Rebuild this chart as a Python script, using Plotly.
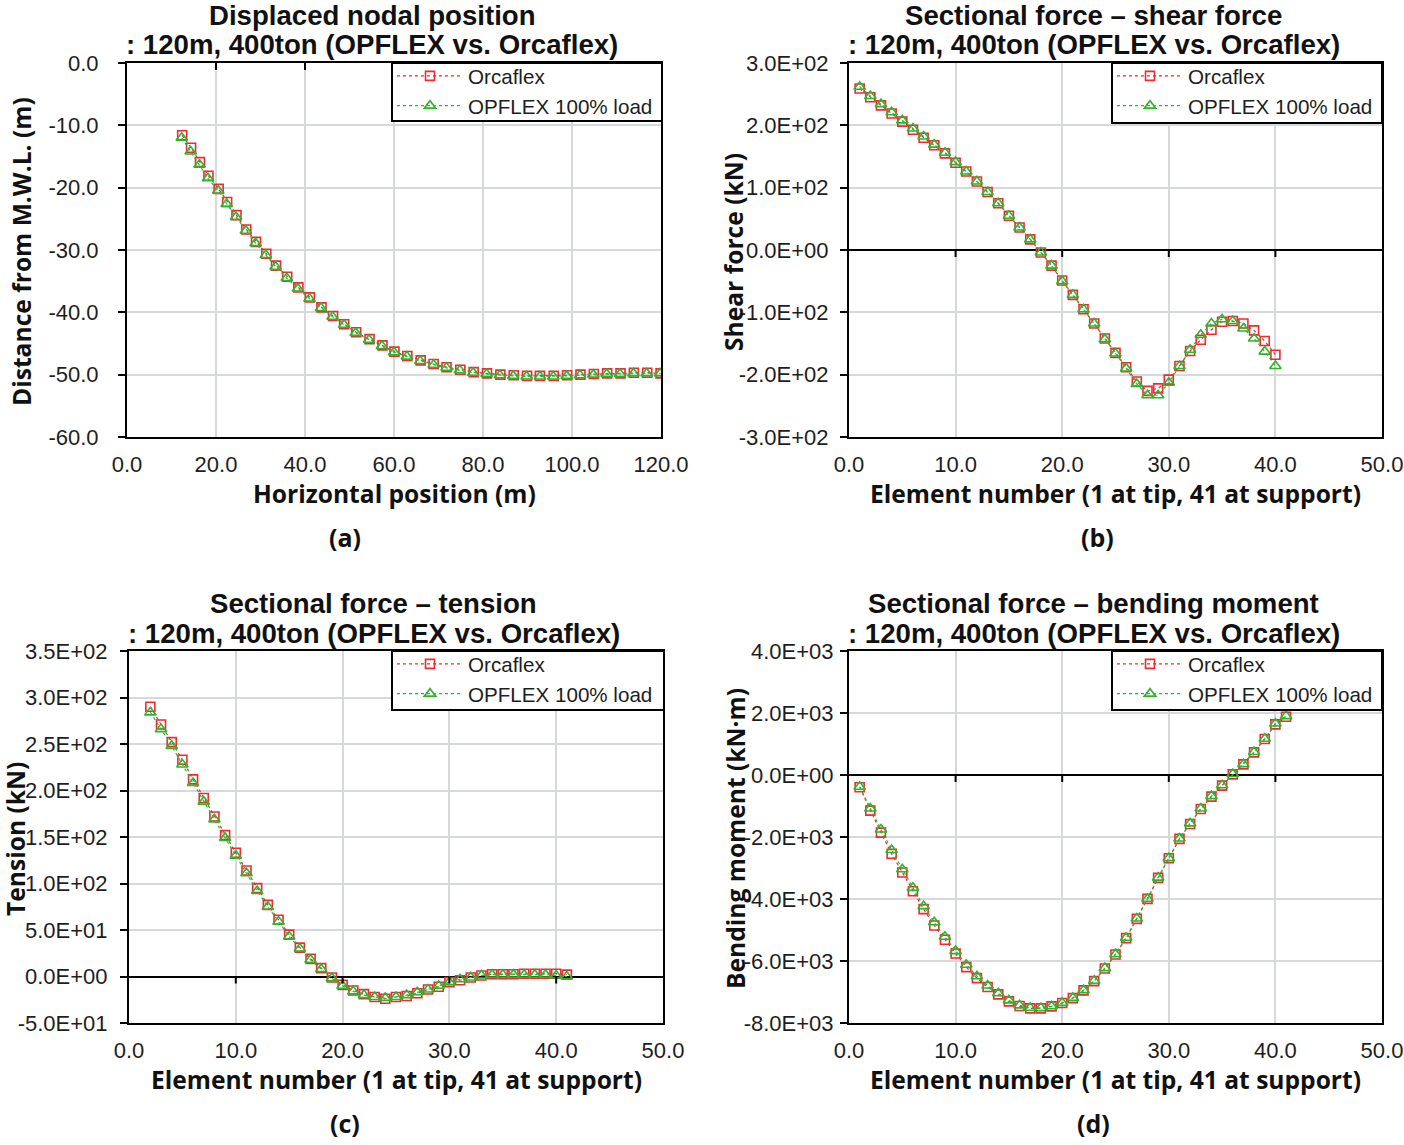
import plotly.graph_objects as go

W, H = 1404, 1145

# ---------------- data ----------------
# (a) displaced nodal position
a_x_orca = [12.4, 14.4, 16.4, 18.3, 20.6, 22.5, 24.6, 26.8, 29.0, 31.3, 33.5, 36.0, 38.5, 41.1, 43.7,
            46.3, 48.8, 51.5, 54.5, 57.4, 60.1, 63.0, 66.0, 68.9, 71.8, 74.9, 77.9, 80.9, 83.9, 86.9,
            89.9, 92.8, 95.9, 98.9, 101.9, 104.9, 107.9, 110.9, 113.9, 116.9, 119.9]
a_y_orca = [-11.6, -13.6, -15.9, -18.1, -20.2, -22.3, -24.4, -26.7, -28.7, -30.6, -32.5, -34.3, -36.0,
            -37.6, -39.2, -40.6, -41.9, -43.2, -44.3, -45.3, -46.3, -47.0, -47.7, -48.3, -48.8, -49.2,
            -49.6, -49.8, -50.0, -50.1, -50.2, -50.2, -50.2, -50.1, -50.0, -49.9, -49.8, -49.8, -49.7,
            -49.7, -49.8]
a_x_opf = [12.3, 14.3, 16.3, 18.2, 20.5, 22.4, 24.5, 26.7, 28.9, 31.2, 33.4, 35.9, 38.4, 41.0, 43.6,
           46.2, 48.8, 51.4, 54.4, 57.3, 60.0, 62.9, 65.9, 68.9, 71.8, 74.8, 77.8, 80.8, 83.8, 86.8,
           89.8, 92.8, 95.8, 98.8, 101.8, 104.8, 107.8, 110.8, 113.8, 116.8, 119.8]
a_y_opf = [-12.0, -14.2, -16.3, -18.5, -20.5, -22.6, -24.7, -26.9, -28.9, -30.8, -32.7, -34.5, -36.2,
           -37.8, -39.3, -40.7, -42.0, -43.3, -44.4, -45.4, -46.4, -47.1, -47.8, -48.4, -48.9, -49.3,
           -49.7, -49.9, -50.1, -50.2, -50.3, -50.3, -50.3, -50.2, -50.1, -50.0, -49.9, -49.9, -49.8,
           -49.8, -49.8]

# (b) shear force, elements 1..40
b_elem = list(range(1, 41))
b_orca = [259, 245, 232, 219, 206, 193, 180, 168, 155, 140, 126, 110, 93, 75, 55, 36, 17, -4, -25, -49,
          -72, -95, -118, -142, -165, -188, -211, -226, -222, -208, -186, -162, -144, -128, -115, -114,
          -118, -129, -146, -168]
b_opf = [262, 247, 234, 221, 208, 195, 182, 169, 156, 141, 126, 110, 93, 75, 55, 36, 17, -4, -25, -50,
         -72, -95, -118, -143, -166, -190, -215, -233, -233, -213, -186, -160, -136, -118, -111, -114,
         -126, -142, -163, -186]

# (c) tension, elements 2..41
c_elem = list(range(2, 42))
c_orca = [290, 271, 252, 233, 212, 192, 172, 152, 133, 114, 95, 77, 61, 45, 31, 19, 9, -1, -9, -15,
          -19, -22, -24, -22, -21, -18, -14, -11, -6, -4, -1, 1, 2.5, 2.5, 2.5, 3, 3, 3, 3, 2]
c_opf = [284, 266, 248, 228, 208, 188, 169, 149, 130, 111, 92, 75, 59, 43, 30, 18, 8, -2, -10, -16,
         -20, -22, -23, -22, -20, -17, -14, -10, -6, -3, -1, 1, 2, 2, 2, 2, 2, 2, 1, 0]

# (d) bending moment, elements 1..41
d_elem = list(range(1, 42))
d_orca = [-397, -1149, -1858, -2545, -3147, -3748, -4328, -4854, -5316, -5757, -6197, -6551, -6841,
          -7078, -7303, -7454, -7529, -7529, -7464, -7357, -7196, -6949, -6648, -6240, -5789, -5263,
          -4640, -3995, -3319, -2685, -2062, -1579, -1095, -698, -344, 21, 344, 730, 1160, 1632, 1880]
d_opf = [-380, -1080, -1760, -2420, -3040, -3640, -4230, -4750, -5220, -5680, -6120, -6490, -6790,
         -7040, -7270, -7430, -7510, -7520, -7460, -7350, -7190, -6940, -6640, -6230, -5780, -5250,
         -4630, -3990, -3310, -2680, -2050, -1560, -1080, -680, -330, 30, 350, 740, 1170, 1660, 1900]

# tick values
a_xticks = [0, 20, 40, 60, 80, 100, 120]
a_yticks = [-60, -50, -40, -30, -20, -10, 0]
elem_xticks = [0, 10, 20, 30, 40, 50]
b_yticks = [-300, -200, -100, 0, 100, 200, 300]
c_yticks = [-50, 0, 50, 100, 150, 200, 250, 300, 350]
d_yticks = [-8000, -6000, -4000, -2000, 0, 2000, 4000]

titles1 = ["Displaced nodal position", "Sectional force \u2013 shear force",
           "Sectional force \u2013 tension", "Sectional force \u2013 bending moment"]
title2 = ": 120m, 400ton (OPFLEX vs. Orcaflex)"
xtitles = ["Horizontal position (m)", "Element number (1 at tip, 41 at support)",
           "Element number (1 at tip, 41 at support)", "Element number (1 at tip, 41 at support)"]
ytitles = ["Distance from M.W.L. (m)", "Shear force (kN)", "Tension (kN)", "Bending moment (kN\u00b7m)"]
captions = ["(a)", "(b)", "(c)", "(d)"]
names = ["Orcaflex", "OPFLEX 100% load"]

# ---------------- layout geometry (pixels) ----------------
# (left, right, top, bottom) of each plot area
boxes = [(127, 661, 63, 437), (849, 1382, 63, 437), (129, 663, 651, 1023), (849, 1382, 651, 1023)]
# legend boxes (left, right, top, bottom)
legboxes = [(392, 662, 63, 121), (1112, 1382, 63, 123), (392, 664, 651, 710), (1112, 1382, 651, 710)]
ystandoff = [15, 7, 8, 2]


def px(x):
    return x / W


def py(y):
    return 1 - y / H


RED = "#ee2a33"
GREEN = "#2db52d"
TICKFONT = dict(family="Liberation Sans, Arial, sans-serif", size=22, color="#1e1e1e")
TITLEFONT = dict(family="Liberation Sans, Arial, sans-serif", size=27.6, color="#111")
LABELFONT = dict(family="Open Sans, Noto Sans, sans-serif", size=24.6, color="#111")

fig = go.Figure()

series = [
    (a_x_orca, a_y_orca, a_x_opf, a_y_opf),
    (b_elem, b_orca, b_elem, b_opf),
    (c_elem, c_orca, c_elem, c_opf),
    (d_elem, d_orca, d_elem, d_opf),
]

for i, (xo, yo, xp, yp) in enumerate(series):
    k = "" if i == 0 else str(i + 1)
    leg = "legend" + k
    fig.add_trace(go.Scatter(
        x=xo, y=yo, name=names[0], mode="lines+markers", xaxis="x" + k, yaxis="y" + k, legend=leg,
        line=dict(color=RED, width=1.2, dash="dot"),
        marker=dict(symbol="square-open", size=9, color=RED, line=dict(width=1.6, color=RED)),
    ))
    fig.add_trace(go.Scatter(
        x=xp, y=yp, name=names[1], mode="lines+markers", xaxis="x" + k, yaxis="y" + k, legend=leg,
        line=dict(color=GREEN, width=1.2, dash="dot"),
        marker=dict(symbol="triangle-up-open", size=10, color=GREEN, line=dict(width=1.6, color=GREEN)),
    ))

xranges = [[0, 120], [0, 50], [0, 50], [0, 50]]
xtickv = [a_xticks, elem_xticks, elem_xticks, elem_xticks]
yranges = [[-60, 0], [-300, 300], [-50, 350], [-8000, 4000]]
ytickv = [a_yticks, b_yticks, c_yticks, d_yticks]
ytickt = [[f"{v:.1f}" for v in a_yticks],
          [f"{v:.1E}" for v in b_yticks],
          [f"{v:.1E}" for v in c_yticks],
          [f"{v:.1E}" for v in d_yticks]]

layout = dict(
    width=W, height=H, margin=dict(l=0, r=0, t=0, b=0, autoexpand=False),
    paper_bgcolor="white", plot_bgcolor="white", showlegend=True,
)
shapes = []
annotations = []

for i in range(4):
    k = "" if i == 0 else str(i + 1)
    l, r, t, b = boxes[i]
    layout["xaxis" + k] = dict(
        domain=[px(l), px(r)], range=xranges[i], anchor="y" + k,
        tickvals=xtickv[i], ticktext=[f"{v:.1f}" for v in xtickv[i]],
        showline=True, linecolor="black", linewidth=2, mirror=True,
        showgrid=True, gridcolor="#d5d9d9", gridwidth=2, zeroline=False,
        ticks="", tickfont=TICKFONT, ticklabelstandoff=7, ticklabeloverflow="allow",
        fixedrange=True, automargin=False,
    )
    layout["yaxis" + k] = dict(
        domain=[py(b), py(t)], range=yranges[i], anchor="x" + k,
        tickvals=ytickv[i], ticktext=ytickt[i],
        showline=True, linecolor="black", linewidth=2, mirror=True,
        showgrid=True, gridcolor="#d5d9d9", gridwidth=2,
        zeroline=True, zerolinecolor="black", zerolinewidth=2,
        ticks="outside", ticklen=7, tickwidth=2, tickcolor="black",
        tickfont=TICKFONT, ticklabelstandoff=ystandoff[i], ticklabeloverflow="allow",
        fixedrange=True, automargin=False,
    )
    # tick marks on the horizontal axis line crossing at y = 0
    for v in xtickv[i][1:-1]:
        shapes.append(dict(type="line", xref="x" + k, yref="y" + k, x0=v, x1=v,
                           ysizemode="pixel", yanchor=0, y0=0, y1=-7,
                           line=dict(color="black", width=2)))
    # legend frame (opaque box) + transparent legend on top
    ll, lr, lt, lb = legboxes[i]
    shapes.append(dict(type="rect", xref="paper", yref="paper", x0=px(ll), x1=px(lr), y0=py(lb), y1=py(lt),
                       fillcolor="white", line=dict(color="black", width=2), layer="above"))
    layout["legend" + k] = dict(
        x=px(ll), y=py(lt - 7), xanchor="left", yanchor="top", xref="paper", yref="paper",
        bgcolor="rgba(0,0,0,0)", borderwidth=0,
        font=dict(family="Liberation Sans, Arial, sans-serif", size=20.6, color="#1e1e1e"),
        itemwidth=66, tracegroupgap=0,
    )
    cx = (l + r) / 2
    # titles
    annotations.append(dict(text="<b>" + titles1[i] + "</b>", x=px(cx - 22), y=py(t - 48),
                            xref="paper", yref="paper", showarrow=False, xanchor="center", yanchor="middle",
                            font=TITLEFONT))
    annotations.append(dict(text="<b>" + title2 + "</b>", x=px(cx - 22), y=py(t - 18),
                            xref="paper", yref="paper", showarrow=False, xanchor="center", yanchor="middle",
                            font=TITLEFONT))
    # x title
    annotations.append(dict(text="<b>" + xtitles[i] + "</b>", x=px(cx), y=py(b + 56),
                            xref="paper", yref="paper", showarrow=False, xanchor="center", yanchor="middle",
                            font=LABELFONT))
    # y title
    ytx = [22, 734, 15, 735][i]
    annotations.append(dict(text="<b>" + ytitles[i] + "</b>", x=px(ytx), y=py((t + b) / 2 + 2),
                            xref="paper", yref="paper", showarrow=False, xanchor="center", yanchor="middle",
                            textangle=-90, font=LABELFONT))
    # caption
    capx = [345, 1097, 345, 1093][i]
    annotations.append(dict(text="<b>" + captions[i] + "</b>", x=px(capx), y=py(b + 100),
                            xref="paper", yref="paper", showarrow=False, xanchor="center", yanchor="middle",
                            font=dict(family="Open Sans, Noto Sans, sans-serif", size=25, color="#111")))

layout["shapes"] = shapes
layout["annotations"] = annotations
fig.update_layout(**layout)

fig.write_html("out.html", config={"displayModeBar": False},
               post_script="document.body.style.margin='0px';document.body.style.padding='0px';")
